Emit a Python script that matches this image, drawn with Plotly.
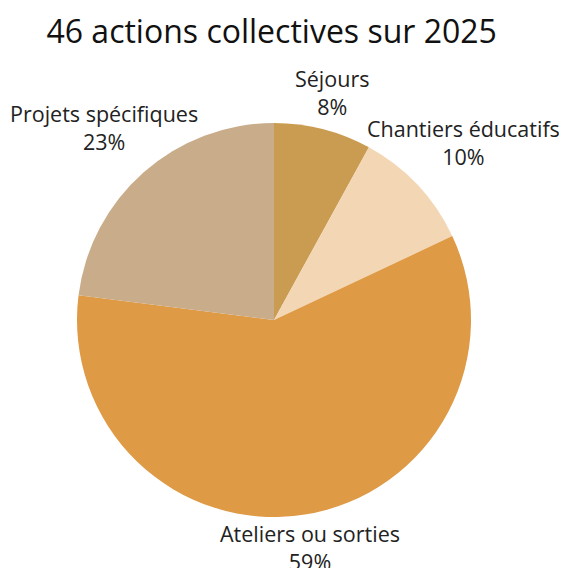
import math
import plotly.graph_objects as go

labels = ["Séjours", "Chantiers éducatifs", "Ateliers ou sorties", "Projets spécifiques"]
values = [8, 10, 59, 23]
colors = ["#C99C52", "#F3D6B4", "#DE9A45", "#C9AC89"]

W, H = 567, 568
# pie placement (figure pixels)
CX, CY, R = 266, 312, 197
FS = 21.5
GAP_BASE = 25
GAP_SIDE = 52

fig = go.Figure(go.Pie(
    labels=labels,
    values=values,
    sort=False,
    direction="clockwise",
    rotation=0,
    marker=dict(colors=colors, line=dict(width=0)),
    textinfo="none",
    showlegend=False,
    hoverinfo="label+percent",
    domain=dict(x=[(CX - R) / W, (CX + R) / W], y=[1 - (CY + R) / H, 1 - (CY - R) / H]),
))

total = sum(values)
cum = 0
for lab, v in zip(labels, values):
    mid = (cum + v / 2) / total * 2 * math.pi
    cum += v
    sx, sy = math.sin(mid), -math.cos(mid)
    dist = R + GAP_BASE + GAP_SIDE * abs(sx)
    px, py = CX + sx * dist, CY + sy * dist
    fig.add_annotation(
        x=px / W, y=1 - py / H, xref="paper", yref="paper",
        text=f"{lab}<br>{round(v / total * 100)}%",
        showarrow=False, xanchor="center", yanchor="middle", align="center",
        font=dict(size=FS, color="#222", family="Open Sans"),
    )

fig.update_layout(
    width=W, height=H,
    title=dict(text="46 actions collectives sur 2025", x=0.465, xanchor="center", y=0.958, yanchor="middle",
               font=dict(size=32, color="#111", family="Open Sans")),
    font=dict(family="Open Sans"),
    margin=dict(l=0, r=0, t=0, b=0, autoexpand=False),
    paper_bgcolor="white",
)

fig.write_html("out.html")
